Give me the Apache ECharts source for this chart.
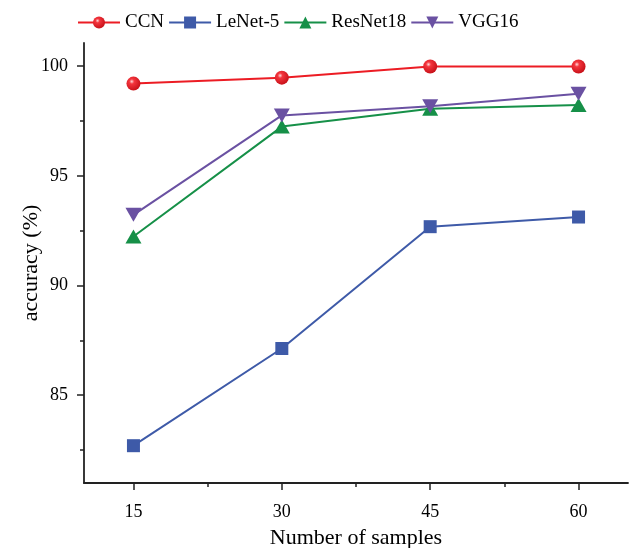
<!DOCTYPE html>
<html>
<head>
<meta charset="utf-8">
<script src="https://cdn.jsdelivr.net/npm/echarts@6/dist/echarts.min.js"></script>
<style>
  html, body { margin: 0; padding: 0; background: #fff; }
  #chart { width: 635px; height: 548px; }
</style>
</head>
<body>
<div id="chart"></div>
<script>
// data
let samples = [15, 30, 45, 60]
let ccn = [99.2, 99.47, 99.98, 99.98]
let lenet = [82.7, 87.13, 92.68, 93.12]
let resnet = [92.23, 97.24, 98.05, 98.22]
let vgg = [93.22, 97.75, 98.17, 98.74]
let xTicks = [15, 30, 45, 60]
let xMinor = [22.5, 37.5, 52.5]
let yTicks = [85, 90, 95, 100]
let yMinor = [82.5, 87.5, 92.5, 97.5]

let font = '"Liberation Serif", "Times New Roman", serif'

function pairs(vals) {
  return samples.map((s, i) => [s, vals[i]])
}

let mychart = echarts.init(document.getElementById('chart'))

let axisLine = { show: true, lineStyle: { color: '#222', width: 1.8 } }
let tickStyle = { color: '#222', width: 1.5 }

let option = {
  backgroundColor: '#fff',
  animation: false,
  legend: {
    top: 8,
    left: 72,
    itemWidth: 42,
    itemHeight: 15,
    itemGap: 4,
    textStyle: { fontFamily: font, fontSize: 19, color: '#000' },
  },
  grid: {
    left: 84,
    right: 7,
    top: 43,
    bottom: 65,
    containLabel: false,
    outerBoundsMode: 'none',
  },
  xAxis: [
    {
      type: 'value',
      min: 10,
      max: 65,
      position: 'bottom',
      name: 'Number of samples',
      nameLocation: 'middle',
      nameGap: 44,
      nameMoveOverlap: false,
      nameTextStyle: { fontFamily: font, fontSize: 22, color: '#000' },
      axisLine: axisLine,
      axisTick: { show: true, inside: false, length: 7, customValues: xTicks, lineStyle: tickStyle },
      axisLabel: { customValues: xTicks, margin: 20, fontFamily: font, fontSize: 18, color: '#000' },
      splitLine: { show: false },
    },
    {
      type: 'value',
      min: 10,
      max: 65,
      position: 'bottom',
      axisLine: { show: false },
      axisTick: { show: true, length: 4, customValues: xMinor, lineStyle: tickStyle },
      axisLabel: { show: false },
      splitLine: { show: false },
    },
  ],
  yAxis: [
    {
      type: 'value',
      min: 81,
      max: 101.05,
      position: 'left',
      name: 'accuracy (%)',
      nameLocation: 'middle',
      nameGap: 42,
      nameMoveOverlap: false,
      nameTextStyle: { fontFamily: font, fontSize: 22, color: '#000' },
      axisLine: axisLine,
      axisTick: { show: true, length: 7, customValues: yTicks, lineStyle: tickStyle },
      axisLabel: { customValues: yTicks, margin: 16, fontFamily: font, fontSize: 18, color: '#000' },
      splitLine: { show: false },
    },
    {
      type: 'value',
      min: 81,
      max: 101.05,
      position: 'left',
      axisLine: { show: false },
      axisTick: { show: true, length: 4, customValues: yMinor, lineStyle: tickStyle },
      axisLabel: { show: false },
      splitLine: { show: false },
    },
  ],
  series: [
    {
      name: 'CCN',
      type: 'line',
      data: pairs(ccn),
      symbol: 'circle',
      symbolSize: 14,
      lineStyle: { color: '#ec1c24', width: 2 },
      itemStyle: {
        color: {
          type: 'radial',
          x: 0.38,
          y: 0.35,
          r: 0.7,
          colorStops: [
            { offset: 0, color: '#ffd8d8' },
            { offset: 0.25, color: '#f4353d' },
            { offset: 1, color: '#c40e16' },
          ],
        },
      },
      z: 5,
    },
    {
      name: 'LeNet-5',
      type: 'line',
      data: pairs(lenet),
      symbol: 'rect',
      symbolSize: 13,
      lineStyle: { color: '#3e5aa8', width: 2 },
      itemStyle: { color: '#3e5aa8' },
    },
    {
      name: 'ResNet18',
      type: 'line',
      data: pairs(resnet),
      symbol: 'triangle',
      symbolSize: [16, 14],
      lineStyle: { color: '#169048', width: 2 },
      itemStyle: { color: '#169048' },
    },
    {
      name: 'VGG16',
      type: 'line',
      data: pairs(vgg),
      symbol: 'path://M0,0 L10,0 L5,9 Z',
      symbolSize: [16, 14],
      lineStyle: { color: '#6a51a2', width: 2 },
      itemStyle: { color: '#6a51a2' },
    },
  ],
}

mychart.setOption(option)
window.addEventListener('resize', () => {
  mychart.resize()
})
</script>
</body>
</html>
